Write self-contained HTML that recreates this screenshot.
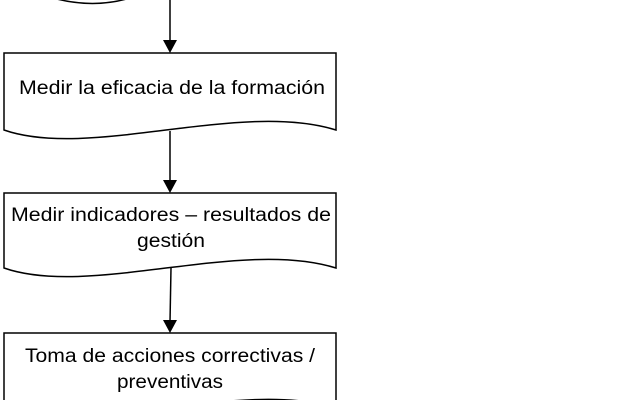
<!DOCTYPE html>
<html><head><style>
html,body{margin:0;padding:0;background:#fff;width:635px;height:400px;overflow:hidden}
svg{display:block}
text{font-family:"Liberation Sans",sans-serif;font-size:19px;fill:#000}
</style></head><body>
<svg width="635" height="400" viewBox="0 0 635 400">
<g fill="none" stroke="#000" stroke-width="1.5">
<path d="M40,-6 C80,8 110,4 130,-2"/>
<line x1="170" y1="0" x2="170" y2="42"/>
<path d="M4,130 L4,53 L336,53 L336,130 C240,100 90,160 4,130 Z" fill="#fff"/>
<line x1="170" y1="131" x2="170" y2="182"/>
<path d="M4,268 L4,193 L336,193 L336,268 C240,238 90,298 4,268 Z" fill="#fff"/>
<line x1="171" y1="268" x2="170" y2="322"/>
<path d="M4,408 L4,333 L336,333 L336,408 C240,378 90,438 4,408 Z" fill="#fff"/>
</g>
<g fill="#000">
<polygon points="163,40 177,40 170,53"/>
<polygon points="163,180 177,180 170,193"/>
<polygon points="163,320 177,320 170,333"/>
</g>
<g text-anchor="middle">
<text x="172" y="94" textLength="306" lengthAdjust="spacingAndGlyphs">Medir la eficacia de la formación</text>
<text x="171" y="221" textLength="320" lengthAdjust="spacingAndGlyphs">Medir indicadores – resultados de</text>
<text x="171" y="247" textLength="68" lengthAdjust="spacingAndGlyphs">gestión</text>
<text x="170" y="362" textLength="290" lengthAdjust="spacingAndGlyphs">Toma de acciones correctivas /</text>
<text x="170" y="388" textLength="106" lengthAdjust="spacingAndGlyphs">preventivas</text>
</g>
</svg>
</body></html>
